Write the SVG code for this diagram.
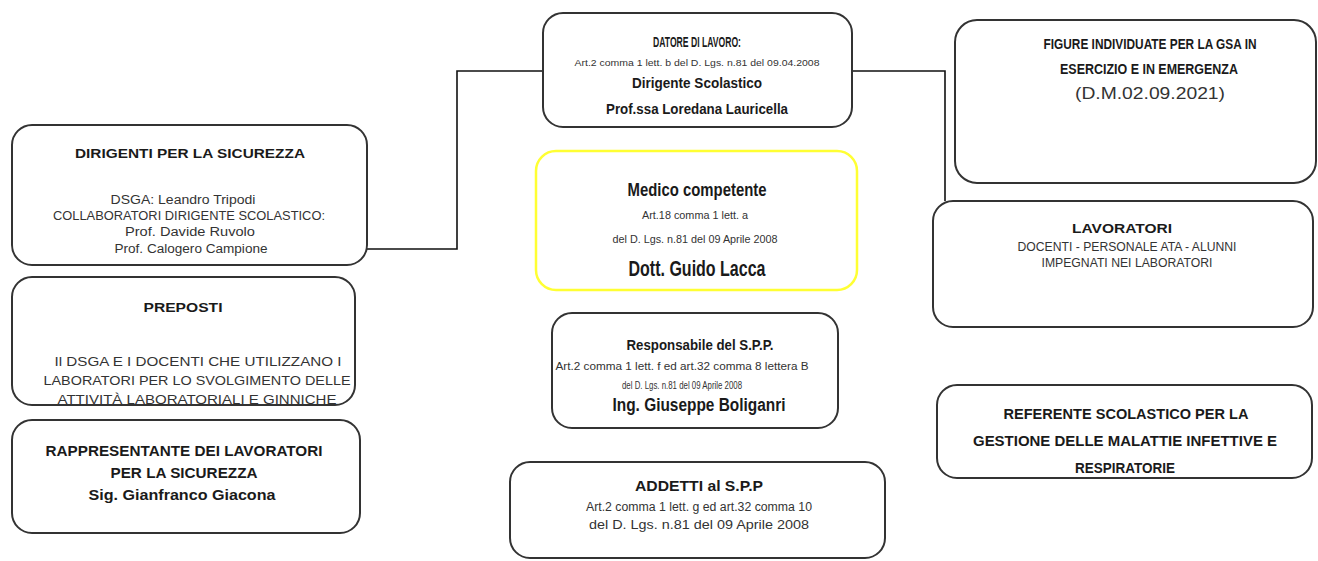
<svg xmlns="http://www.w3.org/2000/svg" width="1318" height="561" viewBox="0 0 1318 561">
<style>
.box{fill:#fff;stroke:#333;stroke-width:2}
.yel{fill:#fff;stroke:#ffff33;stroke-width:2.5}
.conn{fill:none;stroke:#111;stroke-width:1.6}
text{font-family:"Liberation Sans",Arial,sans-serif;text-anchor:middle}
.b{font-weight:bold;fill:#1a1a1a}
.n{fill:#333}
</style>
<rect width="1318" height="561" fill="#fff"/>
<g id="connectors">
<polyline class="conn" points="543,71 457,71 457,249 367,249"/>
<polyline class="conn" points="852,71 945,71 945,201"/>
</g>
<g id="datore">
<rect class="box" x="543" y="13" width="309" height="114" rx="20"/>
<text class="b" x="697" y="47" font-size="14" textLength="88" lengthAdjust="spacingAndGlyphs">DATORE DI LAVORO:</text>
<text class="n" x="697" y="66" font-size="9.5" textLength="245" lengthAdjust="spacingAndGlyphs">Art.2 comma 1 lett. b  del  D. Lgs. n.81 del 09.04.2008</text>
<text class="b" x="697" y="88" font-size="15" textLength="130" lengthAdjust="spacingAndGlyphs">Dirigente Scolastico</text>
<text class="b" x="697" y="114" font-size="15" textLength="182" lengthAdjust="spacingAndGlyphs">Prof.ssa Loredana Lauricella</text>
</g>
<g id="dirigenti">
<rect class="box" x="12" y="125" width="355" height="140" rx="20"/>
<text class="b" x="190" y="158" font-size="13.5" textLength="230" lengthAdjust="spacingAndGlyphs">DIRIGENTI PER LA SICUREZZA</text>
<text class="n" x="183" y="204" font-size="12.5" textLength="145" lengthAdjust="spacingAndGlyphs">DSGA:  Leandro Tripodi</text>
<text class="n" x="189" y="220" font-size="12.5" textLength="272" lengthAdjust="spacingAndGlyphs">COLLABORATORI DIRIGENTE SCOLASTICO:</text>
<text class="n" x="190" y="236" font-size="12.5" textLength="130" lengthAdjust="spacingAndGlyphs">Prof. Davide Ruvolo</text>
<text class="n" x="191" y="253" font-size="12.5" textLength="153" lengthAdjust="spacingAndGlyphs">Prof. Calogero Campione</text>
</g>
<g id="preposti">
<rect class="box" x="12" y="277" width="343" height="128" rx="20"/>
<text class="b" x="183" y="312" font-size="13.5" textLength="79" lengthAdjust="spacingAndGlyphs">PREPOSTI</text>
<text class="n" x="198" y="366" font-size="13" textLength="287" lengthAdjust="spacingAndGlyphs">Il DSGA E I DOCENTI CHE UTILIZZANO I</text>
<text class="n" x="197" y="385" font-size="13" textLength="307" lengthAdjust="spacingAndGlyphs">LABORATORI PER LO SVOLGIMENTO DELLE</text>
<text class="n" x="197" y="404" font-size="13" textLength="279" lengthAdjust="spacingAndGlyphs">ATTIVITÀ LABORATORIALI E GINNICHE</text>
</g>
<g id="rappresentante">
<rect class="box" x="12" y="420" width="348" height="113" rx="20"/>
<text class="b" x="184" y="456" font-size="15.5" textLength="277" lengthAdjust="spacingAndGlyphs">RAPPRESENTANTE DEI LAVORATORI</text>
<text class="b" x="184" y="478" font-size="15.5" textLength="147" lengthAdjust="spacingAndGlyphs">PER LA SICUREZZA</text>
<text class="b" x="182" y="500" font-size="15.5" textLength="187" lengthAdjust="spacingAndGlyphs">Sig. Gianfranco Giacona</text>
</g>
<g id="medico">
<rect class="yel" x="536" y="151" width="321" height="139" rx="20"/>
<text class="b" x="697" y="196" font-size="18" textLength="139" lengthAdjust="spacingAndGlyphs">Medico competente</text>
<text class="n" x="695" y="219" font-size="11" textLength="106" lengthAdjust="spacingAndGlyphs">Art.18 comma 1 lett. a</text>
<text class="n" x="695" y="243" font-size="11" textLength="165" lengthAdjust="spacingAndGlyphs">del  D. Lgs. n.81 del 09 Aprile 2008</text>
<text class="b" x="697" y="276" font-size="22" textLength="137" lengthAdjust="spacingAndGlyphs">Dott. Guido Lacca</text>
</g>
<g id="responsabile">
<rect class="box" x="552" y="313" width="286" height="115" rx="20"/>
<text class="b" x="700" y="350" font-size="15" textLength="147" lengthAdjust="spacingAndGlyphs">Responsabile del S.P.P.</text>
<text class="n" x="682" y="370" font-size="10" textLength="253" lengthAdjust="spacingAndGlyphs">Art.2 comma 1 lett. f ed art.32 comma 8 lettera B</text>
<text class="n" x="682" y="389" font-size="10" textLength="120" lengthAdjust="spacingAndGlyphs">del  D. Lgs. n.81 del 09 Aprile 2008</text>
<text class="b" x="699" y="411" font-size="17.5" textLength="173" lengthAdjust="spacingAndGlyphs">Ing. Giuseppe Boliganri</text>
</g>
<g id="addetti">
<rect class="box" x="510" y="462" width="375" height="96" rx="20"/>
<text class="b" x="699" y="491" font-size="15" textLength="128" lengthAdjust="spacingAndGlyphs">ADDETTI al S.P.P</text>
<text class="n" x="699" y="511" font-size="12" textLength="226" lengthAdjust="spacingAndGlyphs">Art.2 comma 1 lett. g ed art.32 comma 10</text>
<text class="n" x="699" y="529" font-size="12" textLength="220" lengthAdjust="spacingAndGlyphs">del  D. Lgs. n.81 del 09 Aprile 2008</text>
</g>
<g id="figure">
<rect class="box" x="955" y="20" width="361" height="163" rx="22"/>
<text class="b" x="1150" y="49" font-size="14" textLength="213" lengthAdjust="spacingAndGlyphs">FIGURE INDIVIDUATE PER LA GSA IN</text>
<text class="b" x="1149" y="74" font-size="14" textLength="178" lengthAdjust="spacingAndGlyphs">ESERCIZIO E IN EMERGENZA</text>
<text class="n" x="1150" y="99" font-size="16" textLength="150" lengthAdjust="spacingAndGlyphs">(D.M.02.09.2021)</text>
</g>
<g id="lavoratori">
<rect class="box" x="933" y="201" width="380" height="126" rx="20"/>
<text class="b" x="1122" y="233" font-size="13.5" textLength="100" lengthAdjust="spacingAndGlyphs">LAVORATORI</text>
<text class="n" x="1127" y="251" font-size="12.5" textLength="219" lengthAdjust="spacingAndGlyphs">DOCENTI - PERSONALE ATA - ALUNNI</text>
<text class="n" x="1127" y="267" font-size="12.5" textLength="171" lengthAdjust="spacingAndGlyphs">IMPEGNATI NEI LABORATORI</text>
</g>
<g id="referente">
<rect class="box" x="937" y="385" width="375" height="93" rx="20"/>
<text class="b" x="1126" y="419" font-size="15" textLength="245" lengthAdjust="spacingAndGlyphs">REFERENTE SCOLASTICO PER LA</text>
<text class="b" x="1125" y="446" font-size="15" textLength="304" lengthAdjust="spacingAndGlyphs">GESTIONE DELLE MALATTIE INFETTIVE E</text>
<text class="b" x="1125" y="473" font-size="15" textLength="100" lengthAdjust="spacingAndGlyphs">RESPIRATORIE</text>
</g>
</svg>
